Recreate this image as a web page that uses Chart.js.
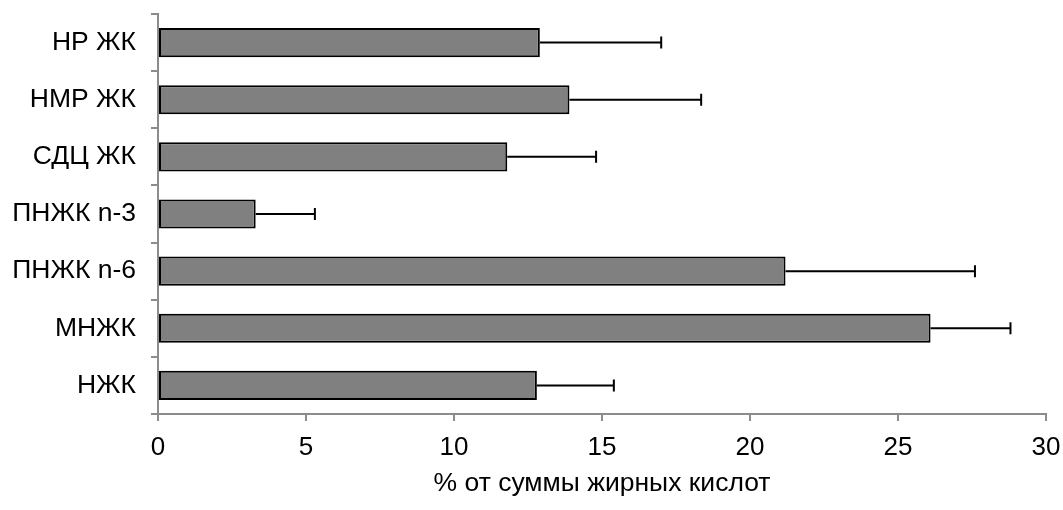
<!DOCTYPE html>
<html>
<head>
<meta charset="utf-8">
<script src="https://cdn.jsdelivr.net/npm/chart.js"></script>
<style>
  html, body { margin: 0; padding: 0; background: #fff; }
  #wrap { width: 1063px; height: 510px; }
</style>
</head>
<body>
<div id="wrap"><canvas id="fattyChart"></canvas></div>
<script>
// Data
const categories = ['НР ЖК', 'НМР ЖК', 'СДЦ ЖК', 'ПНЖК n-3', 'ПНЖК n-6', 'МНЖК', 'НЖК'];
const values = [12.9, 13.9, 11.8, 3.3, 21.2, 26.1, 12.8];
const errors = [4.1, 4.45, 3.0, 2.0, 6.4, 2.7, 2.6];
const xTicks = [0, 5, 10, 15, 20, 25, 30];
const xTitle = '% от суммы жирных кислот';

const FONT = "'Liberation Sans', Arial, sans-serif";
const AXIS_GREY = '#8c8c8c';

// Draw the plus-only error bars from the error array
const errorBarPlugin = {
    id: 'errorBars',
    afterDatasetsDraw(chart) {
        const ctx = chart.ctx;
        const meta = chart.getDatasetMeta(0);
        const xScale = chart.scales.x;
        ctx.save();
        ctx.strokeStyle = '#000';
        ctx.lineWidth = 2;
        meta.data.forEach((bar, i) => {
            const x0 = bar.x;
            const x1 = xScale.getPixelForValue(values[i] + errors[i]);
            const y = bar.y;
            ctx.beginPath();
            ctx.moveTo(x0, y);
            ctx.lineTo(x1, y);
            ctx.moveTo(x1, y - 6);
            ctx.lineTo(x1, y + 6);
            ctx.stroke();
        });
        ctx.restore();
    }
};

const ctx = document.getElementById('fattyChart').getContext('2d');
new Chart(ctx, {
    type: 'bar',
    data: {
        labels: categories,
        datasets: [{
            data: values,
            backgroundColor: '#808080',
            borderColor: '#000',
            borderWidth: 2,
            borderSkipped: false,
            barPercentage: 0.51,
            categoryPercentage: 1
        }]
    },
    options: {
        indexAxis: 'y',
        responsive: true,
        maintainAspectRatio: false,
        animation: false,
        layout: { padding: { top: 14, right: 17, bottom: 0, left: 0 } },
        plugins: {
            legend: { display: false },
            tooltip: { enabled: false }
        },
        scales: {
            x: {
                min: 0,
                max: 30,
                afterBuildTicks(scale) {
                    scale.ticks = xTicks.map(v => ({ value: v }));
                },
                afterFit(scale) {
                    scale.height = 96;
                    scale.paddingLeft = 0;
                    scale.paddingRight = 0;
                },
                grid: {
                    drawOnChartArea: false,
                    color: AXIS_GREY,
                    lineWidth: 2,
                    tickLength: 7
                },
                border: { color: AXIS_GREY, width: 2 },
                ticks: {
                    color: '#000',
                    padding: 11,
                    font: { family: FONT, size: 26 }
                },
                title: {
                    display: true,
                    text: xTitle,
                    color: '#000',
                    padding: { top: 0, bottom: 10 },
                    font: { family: FONT, size: 26.5 }
                }
            },
            y: {
                afterFit(scale) {
                    scale.width = 158;
                    scale.paddingTop = 0;
                    scale.paddingBottom = 0;
                },
                grid: {
                    drawOnChartArea: false,
                    color: AXIS_GREY,
                    lineWidth: 2,
                    tickLength: 7
                },
                border: { color: AXIS_GREY, width: 2 },
                ticks: {
                    color: '#000',
                    padding: 15,
                    font: { family: FONT, size: 26.5 }
                }
            }
        }
    },
    plugins: [errorBarPlugin]
});
</script>
</body>
</html>
